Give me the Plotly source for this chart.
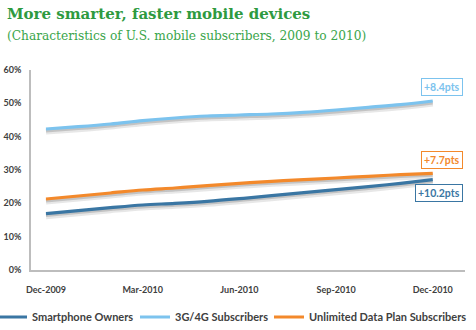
import plotly.graph_objects as go

# Monthly share of U.S. mobile subscribers (%), Dec-2009 .. Dec-2010
months = ["Dec-2009", "Jan-2010", "Feb-2010", "Mar-2010", "Apr-2010", "May-2010",
          "Jun-2010", "Jul-2010", "Aug-2010", "Sep-2010", "Oct-2010", "Nov-2010", "Dec-2010"]
smartphone = [16.9, 17.8, 18.7, 19.5, 20.0, 20.6, 21.4, 22.3, 23.2, 24.1, 25.0, 26.0, 27.1]
g3g4 = [42.3, 43.0, 43.8, 44.8, 45.6, 46.2, 46.5, 46.8, 47.3, 48.0, 48.8, 49.6, 50.7]
unlimited = [21.3, 22.2, 23.1, 24.0, 24.6, 25.3, 26.0, 26.6, 27.1, 27.6, 28.1, 28.6, 29.0]

series_names = ["Smartphone Owners", "3G/4G Subscribers", "Unlimited Data Plan Subscribers"]
series_vals = [smartphone, g3g4, unlimited]
series_colors = ["#3a76a3", "#7cc3ee", "#f3892b"]
change_labels = ["+10.2pts", "+8.4pts", "+7.7pts"]
label_yshift = [-13, 14, 13]

tick_idx = [0, 3, 6, 9, 12]
tick_text = [months[i] for i in tick_idx]
y_ticks = [0, 10, 20, 30, 40, 50, 60]
y_tick_text = ["%d%%" % v for v in y_ticks]

W, H = 476, 330
L, R, T, B = 31, 11, 70, 60
x_range = [-0.465, 13.0]
legend_left_px = [-8, 135, 269]

def px_x(p):
    return (p - L) / (W - L - R)

def px_y(p):
    return 1 - (p - T) / (H - T - B)

idx = list(range(len(months)))
fig = go.Figure()

# soft drop shadows under each line
for vals in series_vals:
    for off, wdt, col in [(-0.75, 6, "rgba(160,160,160,0.25)"),
                          (-0.5, 3.5, "rgba(130,130,130,0.35)")]:
        fig.add_trace(go.Scatter(
            x=idx, y=[v + off for v in vals], mode="lines",
            line=dict(color=col, width=wdt, shape="spline"),
            showlegend=False, hoverinfo="skip"))

legend_ids = ["legend", "legend2", "legend3"]
for name, vals, col, lg in zip(series_names, series_vals, series_colors, legend_ids):
    fig.add_trace(go.Scatter(
        x=idx, y=vals, mode="lines", name=name, legend=lg,
        line=dict(color=col, width=3.2, shape="spline")))

for vals, col, lab, ys in zip(series_vals, series_colors, change_labels, label_yshift):
    fig.add_annotation(
        x=13.0, y=vals[-1], xref="x", yref="y", text="<b>%s</b>" % lab,
        showarrow=False, xanchor="right", xshift=-2, yshift=ys,
        font=dict(family="Lato", size=10.5, color=col),
        bordercolor=col, borderwidth=1, borderpad=2, bgcolor="white")

fig.add_annotation(
    x=px_x(5), y=px_y(14), xref="paper", yref="paper",
    text="<b>More smarter, faster mobile devices</b>", showarrow=False,
    xanchor="left", yanchor="middle",
    font=dict(family="DejaVu Serif", size=15, color="#2e9a3f"))
fig.add_annotation(
    x=px_x(5), y=px_y(36), xref="paper", yref="paper",
    text="(Characteristics of U.S. mobile subscribers, 2009 to 2010)", showarrow=False,
    xanchor="left", yanchor="middle",
    font=dict(family="DejaVu Serif", size=12.2, color="#3aa54b"))

legend_font = dict(family="Lato", size=11, color="#404040", weight="bold")
legends = {}
for lg, lx in zip(legend_ids, legend_left_px):
    legends[lg] = dict(orientation="h", x=px_x(lx), y=px_y(317), xanchor="left",
                       yanchor="middle", font=legend_font, itemwidth=30,
                       bgcolor="rgba(0,0,0,0)")

fig.update_layout(
    width=W, height=H, margin=dict(l=L, r=R, t=T, b=B, autoexpand=False),
    paper_bgcolor="white", plot_bgcolor="white",
    font=dict(family="Lato", color="#404040"),
    xaxis=dict(range=x_range, tickvals=tick_idx, ticktext=tick_text, showgrid=False,
               zeroline=False, showline=True, linecolor="#bdbdbd", linewidth=1.5,
               ticks="", ticklabelstandoff=10,
               tickfont=dict(size=9, color="#404040", weight="bold")),
    yaxis=dict(range=[0, 60], tickvals=y_ticks, ticktext=y_tick_text, showgrid=False,
               zeroline=False, showline=True, linecolor="#bdbdbd", linewidth=1.5,
               ticks="", ticklabelstandoff=6,
               tickfont=dict(size=9, color="#404040", weight="bold")),
    **legends,
)

fig.write_html("out.html")
